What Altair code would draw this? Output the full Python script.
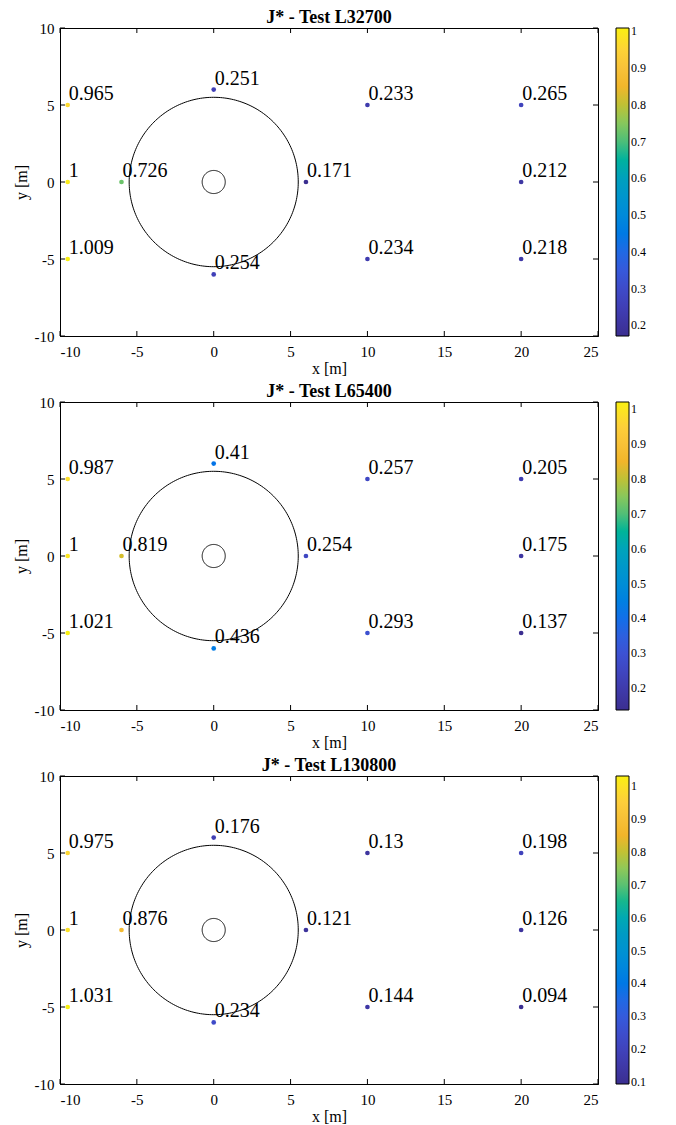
import altair as alt
import numpy as np
import pandas as pd

# ---- data ----
titles = ["J* - Test L32700", "J* - Test L65400", "J* - Test L130800"]
px = [-9.5, -9.5, -9.5, -6, 0, 0, 6, 10, 10, 20, 20, 20]
py = [5, 0, -5, 0, 6, -6, 0, 5, -5, 5, 0, -5]
j1 = [0.965, 1, 1.009, 0.726, 0.251, 0.254, 0.171, 0.233, 0.234, 0.265, 0.212, 0.218]
j2 = [0.987, 1, 1.021, 0.819, 0.41, 0.436, 0.254, 0.257, 0.293, 0.205, 0.175, 0.137]
j3 = [0.975, 1, 1.031, 0.876, 0.176, 0.234, 0.121, 0.13, 0.144, 0.198, 0.126, 0.094]
series = [j1, j2, j3]
cbar_ticks = [
    [0.2, 0.3, 0.4, 0.5, 0.6, 0.7, 0.8, 0.9, 1.0],
    [0.2, 0.3, 0.4, 0.5, 0.6, 0.7, 0.8, 0.9, 1.0],
    [0.1, 0.2, 0.3, 0.4, 0.5, 0.6, 0.7, 0.8, 0.9, 1.0],
]
x_ticks = [-10, -5, 0, 5, 10, 15, 20, 25]
y_ticks = [-10, -5, 0, 5, 10]
ring_radii = [5.5, 0.75]

parula = ["#3b2e90", "#4040b8", "#3a55d8", "#1070e8", "#0a8cd8", "#0a9cc0",
          "#28b888", "#90c858", "#f0b428", "#fcc840", "#f9f010"]

W, H = 538, 308
SERIF = "Liberation Serif"
LBL = "datum.value < 0 ? '-' + abs(datum.value) : '' + datum.value"

theta = np.linspace(0, 2 * np.pi, 241)
rings = pd.concat([
    pd.DataFrame({"cx": r * np.cos(theta), "cy": r * np.sin(theta),
                  "k": np.arange(len(theta)), "ring": i})
    for i, r in enumerate(ring_radii)
])
xt = pd.DataFrame({"v": x_ticks})
yt = pd.DataFrame({"v": y_ticks})

xs = alt.Scale(domain=[-10, 25], nice=False, zero=False)
ys = alt.Scale(domain=[-10, 10], nice=False, zero=False)
xax = alt.Axis(values=x_ticks, ticks=False, grid=False, labelExpr=LBL,
               labelPadding=8, titlePadding=1)
yax = alt.Axis(values=y_ticks, ticks=False, grid=False, labelExpr=LBL,
               labelPadding=6, titlePadding=5)


def panel(i):
    vals = series[i]
    df = pd.DataFrame({"x": px, "y": py, "j": vals,
                       "lab": [f"{v:g}" for v in vals]})
    xenc = alt.X("x:Q", scale=xs, title="x [m]", axis=xax)
    yenc = alt.Y("y:Q", scale=ys, title="y [m]", axis=yax)
    circ = alt.Chart(rings).mark_line(color="black", strokeWidth=1).encode(
        x=alt.X("cx:Q", scale=xs, title="x [m]", axis=xax),
        y=alt.Y("cy:Q", scale=ys, title="y [m]", axis=yax),
        detail="ring:N", order="k:Q")
    pts = alt.Chart(df).mark_circle(size=22, opacity=1).encode(
        x=xenc, y=yenc,
        color=alt.Color("j:Q",
                        scale=alt.Scale(domain=[min(vals), max(vals)],
                                        range=parula, nice=False, zero=False),
                        legend=alt.Legend(title=None, values=cbar_ticks[i],
                                          format="g")))
    txt = alt.Chart(df).mark_text(align="left", baseline="alphabetic", dx=1,
                                  dy=-5, font=SERIF, fontSize=20,
                                  color="black").encode(
        x=xenc, y=yenc, text="lab:N")
    tb = alt.Chart(xt).mark_rule(color="black").encode(
        x=alt.X("v:Q", scale=xs), y=alt.value(H), y2=alt.value(H - 5))
    tt = alt.Chart(xt).mark_rule(color="black").encode(
        x=alt.X("v:Q", scale=xs), y=alt.value(0), y2=alt.value(5))
    tl = alt.Chart(yt).mark_rule(color="black").encode(
        y=alt.Y("v:Q", scale=ys), x=alt.value(0), x2=alt.value(5))
    tr = alt.Chart(yt).mark_rule(color="black").encode(
        y=alt.Y("v:Q", scale=ys), x=alt.value(W), x2=alt.value(W - 5))
    return alt.layer(circ, tb, tt, tl, tr, pts, txt).properties(
        width=W, height=H,
        title=alt.TitleParams(titles[i], font=SERIF, fontSize=18,
                              fontWeight="bold", offset=-6, color="black"))


chart = alt.vconcat(*[panel(i) for i in range(3)], spacing=5).resolve_scale(
    color="independent").resolve_legend(color="independent").properties(
    padding={"top": 0, "left": 4, "right": 0, "bottom": 0}).configure_view(
    stroke="black", strokeWidth=1).configure_axis(
    labelFont=SERIF, labelFontSize=15, labelColor="black",
    titleFont=SERIF, titleFontSize=16, titleFontWeight="normal",
    titleColor="black", domainColor="black").configure_legend(
    orient="right", offset=18, padding=0, gradientLength=H,
    gradientThickness=13, labelFont=SERIF, labelFontSize=12,
    labelColor="black", labelOffset=5, gradientStrokeColor="black",
    gradientStrokeWidth=1)

chart.save("out.html", embed_options={"renderer": "svg", "actions": False})
